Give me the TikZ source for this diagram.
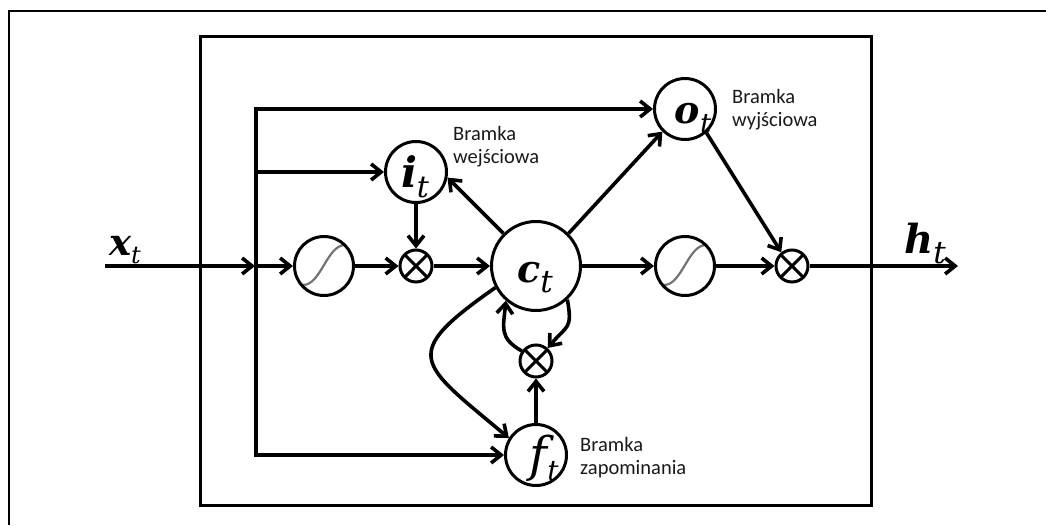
\RequirePackage{fix-cm}
\documentclass[tikz,border=0pt]{standalone}
\usepackage{fontspec}
\newfontfamily\labfont{Carlito}
\newfontfamily\mserif{DejaVu Serif}
\usetikzlibrary{arrows.meta}
% #1 size of letter, #2 letter, #3 size of t, #4 drop of t, #5 style of letter
\newcommand\glab[5]{{\fontsize{#1}{#1}\selectfont\mserif#5#2}\raisebox{#4}{\fontsize{#3}{#3}\selectfont\mserif\itshape t}}
\newcommand\bi{\bfseries\itshape}
\begin{document}
\begin{tikzpicture}[x=1pt,y=1pt,
  arr/.style={line width=3.6pt,-{Straight Barb[length=10pt,width=16pt]}},
  circ/.style={circle,draw,line width=3pt,inner sep=0pt,fill=white},
  gate/.style={circ,minimum size=61pt},
  mult/.style={circ,minimum size=32pt,path picture={
      \draw[line width=3pt] (path picture bounding box.north west) -- (path picture bounding box.south east)
                            (path picture bounding box.north east) -- (path picture bounding box.south west);}},
  sigm/.style={circ,minimum size=59pt,path picture={
      \draw[black!55,line width=2.2pt]
        ([shift={(-21,-19)}]path picture bounding box.center)
        .. controls ([shift={(-3,-19)}]path picture bounding box.center)
        and ([shift={(3,21)}]path picture bounding box.center)
        .. ([shift={(21,21)}]path picture bounding box.center);}},
  gtext/.style={anchor=north west,align=left,inner sep=0pt,text=black!90,
      font=\labfont\fontsize{20.5}{23}\selectfont},
  mlab/.style={anchor=base,inner sep=0pt}
]
\useasboundingbox (0,-525) rectangle (1046,0);
\fill[white] (0,-525) rectangle (1046,0);
% frames
\draw[line width=2pt] (9,-525) -- (9,-11) -- (1046,-11);
\draw[line width=3pt] (200,-36) rectangle (871,-505);
% nodes
\node[sigm] (sL) at (324,-266) {};
\node[mult] (m1) at (416,-266) {};
\node[gate] (i) at (416,-172) {};
\node[circ,minimum size=89pt] (c) at (536,-266) {};
\node[gate] (o) at (685,-109) {};
\node[sigm] (sR) at (685,-266) {};
\node[mult] (m2) at (792,-266) {};
\node[mult] (m3) at (536,-361) {};
\node[gate] (f) at (536,-455) {};
% coordinates
\coordinate (xin) at (105,-266);
\coordinate (xend) at (255,-266);
\coordinate (btop) at (256,-109);
\coordinate (bmid) at (256,-266);
\coordinate (bbot) at (256,-455);
\coordinate (hout) at (958,-266);
% connectors
\draw[arr] (xin) -- (xend);
\draw[arr] (bbot) -- (btop) -- (o);
\draw[arr] (bmid) -- (bbot) -- (f);
\draw[arr] (bmid) -- (sL);
\draw[arr] (btop |- i) -- (i);
\draw[arr] (sL) -- (m1);
\draw[arr] (i) -- (m1);
\draw[arr] (m1) -- (c);
\draw[arr] (c.135) -- (i.-10);
\draw[arr] (c.45) -- (o.-135);
\draw[arr] (o.-48) -- (m2.128);
\draw[arr] (c) -- (sR);
\draw[arr] (sR) -- (m2);
\draw[arr] (m2) -- (hout);
\draw[arr] (f) -- (m3);
\draw[arr] (c.-47) to[out=-80,in=50,looseness=1.5] (m3.48);
\draw[arr] (m3.145) to[out=150,in=-95,looseness=1.3] (c.-131);
\draw[arr] (c.208) to[out=215,in=140,looseness=2] (f.148);
% math labels
\node[mlab] (xl) at (125,-255) {\glab{37}{x}{24}{-8pt}{\bi}};
\node[mlab] (il) at (415,-187) {\glab{42}{i}{30}{-10pt}{\bi}};
\node[mlab] (cl) at (535,-282) {\glab{38}{c}{31}{-10pt}{\bi}};
\node[mlab] (ol) at (693,-123) {\glab{38}{o}{28}{-10pt}{\bi}};
\node[mlab] (fl) at (544,-471) {\glab{48}{f}{28}{-9pt}{\itshape}};
\node[mlab] (hl) at (925,-253) {\glab{40}{h}{31}{-10pt}{\bi}};
% text labels
\node[gtext] (iw) at (453,-126) {Bramka\\wejściowa};
\node[gtext] (ow) at (732,-89) {Bramka\\wyjściowa};
\node[gtext] (fw) at (580,-437) {Bramka\\zapominania};
\end{tikzpicture}
\end{document}
